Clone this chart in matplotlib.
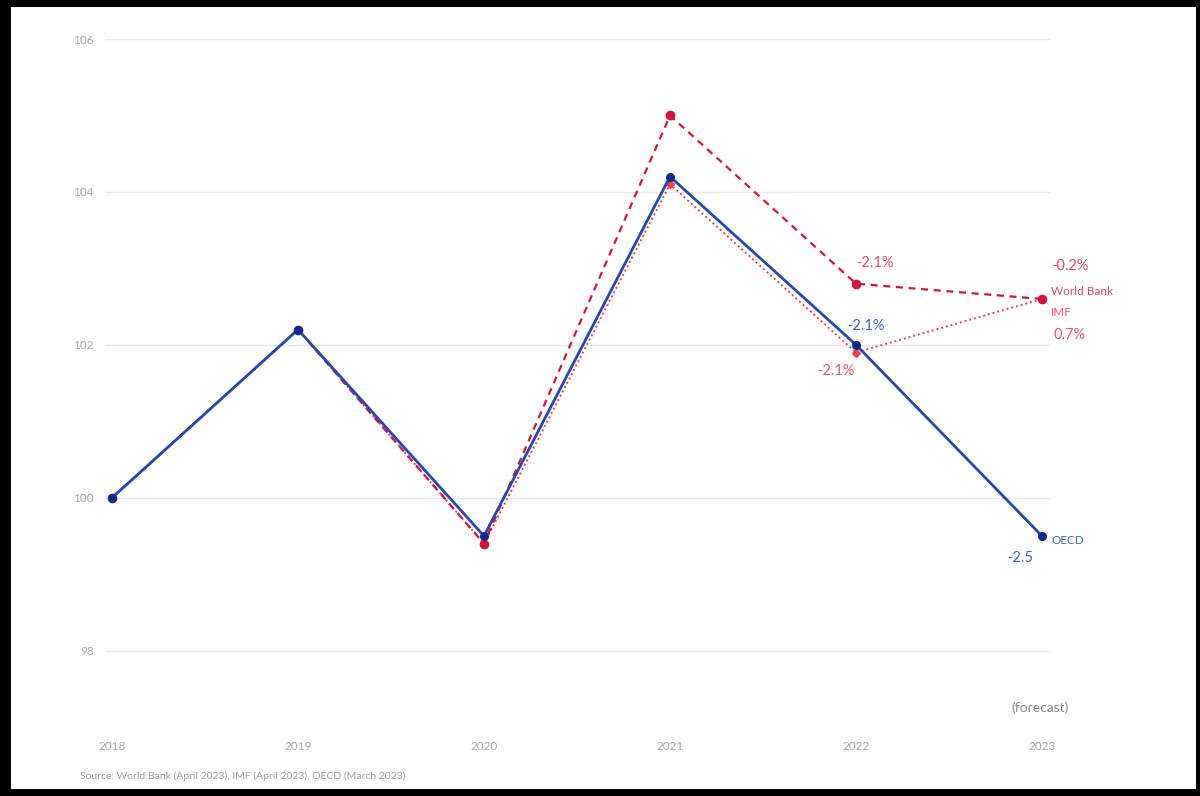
import matplotlib
matplotlib.use("Agg")
import matplotlib.pyplot as plt
from matplotlib.patches import Rectangle

plt.rcParams['font.family'] = ['Lato', 'DejaVu Sans']

years = ["2018", "2019", "2020", "2021", "2022", "2023"]
world_bank = [100.0, 102.2, 99.4, 105.0, 102.8, 102.6]
imf = [100.0, 102.2, 99.4, 104.1, 101.9, 102.6]
oecd = [100.0, 102.2, 99.5, 104.2, 102.0, 99.5]
y_ticks = [98, 100, 102, 104, 106]

wb_labels = {"2022": "-2.1%", "2023": "-0.2%"}
imf_labels = {"2022": "-2.1%", "2023": "0.7%"}
oecd_labels = {"2022": "-2.1%", "2023": "-2.5"}

WB_C = "#d2143f"
IMF_C = "#f23d58"
OECD_C = "#2449ad"
OECD_M = "#0b2a8c"
WB_TXT = "#dc4a68"
IMF_TXT = "#f0566c"
OECD_TXT = "#3e63c0"

fig = plt.figure(figsize=(12, 7.96), dpi=100, facecolor="black")
fig.patches.append(Rectangle((11/1200, 7/796), 1185/1200, 782/796,
                             transform=fig.transFigure, facecolor="white",
                             edgecolor="none", zorder=-10))

ax = fig.add_axes([105/1200, 1 - 731/796, 945/1200, (731 - 39)/796])
ax.set_facecolor("none")
x = list(range(len(years)))

ax.plot(x, imf, color=IMF_C, lw=1.4, linestyle=(0, (1, 1.5)),
        marker="D", markersize=4.5, zorder=3)
ax.plot(x, world_bank, color=WB_C, lw=1.6, linestyle=(0, (3.2, 2.5)),
        marker="o", markersize=6, zorder=4)
ax.plot(x, oecd, color=OECD_C, lw=2, linestyle="-", marker="o",
        markersize=5.5, markerfacecolor=OECD_M, markeredgecolor=OECD_M, zorder=5)

ax.set_xlim(-0.0376, 5.043)
ax.set_ylim(96.95, 106)
ax.set_yticks(y_ticks)
ax.set_xticks(x)
ax.set_xticklabels(years)
ax.grid(axis="y", color="#e9e9e9", lw=1)
ax.set_axisbelow(True)
for s in ax.spines.values():
    s.set_visible(False)
ax.tick_params(axis="both", length=0, colors="#a8a8a8", labelsize=8.5)
ax.tick_params(axis="y", pad=8)
ax.tick_params(axis="x", pad=7)

i22, i23 = years.index("2022"), years.index("2023")
fs = 10.5
ax.annotate(wb_labels["2022"], (i22, world_bank[i22]), xytext=(19, 21),
            textcoords="offset pixels", color=WB_TXT, fontsize=fs, va="center", ha="center")
ax.annotate(wb_labels["2023"], (i23, world_bank[i23]), xytext=(28, 33),
            textcoords="offset pixels", color=WB_TXT, fontsize=fs, va="center", ha="center")
ax.annotate("World Bank", (i23, world_bank[i23]), xytext=(9, 7),
            textcoords="offset pixels", color=WB_TXT, fontsize=8.5, va="center", ha="left")
ax.annotate("IMF", (i23, imf[i23]), xytext=(9, -14),
            textcoords="offset pixels", color=IMF_TXT, fontsize=8.5, va="center", ha="left")
ax.annotate(imf_labels["2023"], (i23, imf[i23]), xytext=(28, -36),
            textcoords="offset pixels", color=IMF_TXT, fontsize=fs, va="center", ha="center")
ax.annotate(imf_labels["2022"], (i22, imf[i22]), xytext=(-20, -18),
            textcoords="offset pixels", color=IMF_TXT, fontsize=fs, va="center", ha="center")
ax.annotate(oecd_labels["2022"], (i22, oecd[i22]), xytext=(10, 19),
            textcoords="offset pixels", color=OECD_TXT, fontsize=fs, va="center", ha="center")
ax.annotate("OECD", (i23, oecd[i23]), xytext=(9, -4),
            textcoords="offset pixels", color=OECD_TXT, fontsize=8.5, va="center", ha="left")
ax.annotate(oecd_labels["2023"], (i23, oecd[i23]), xytext=(-22, -22),
            textcoords="offset pixels", color=OECD_TXT, fontsize=fs, va="center", ha="center")

fig.text(1040/1200, 1 - 708/796, "(forecast)", color="#8a8a8a", fontsize=10,
         ha="center", va="center")
fig.text(80/1200, 1 - 776/796, "Source: World Bank (April 2023), IMF (April 2023), OECD (March 2023)",
         color="#a0a0a0", fontsize=7.5, ha="left", va="center")

fig.savefig("out.png", dpi=100, facecolor=fig.get_facecolor())
